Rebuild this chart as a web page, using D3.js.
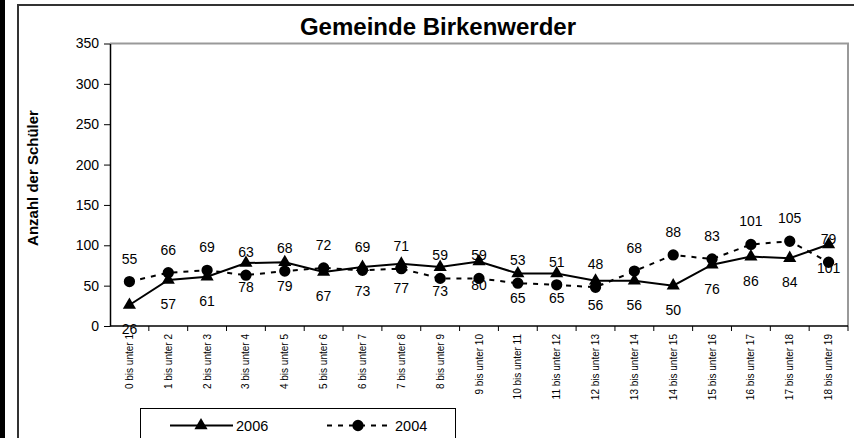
<!DOCTYPE html>
<html>
<head>
<meta charset="utf-8">
<script src="https://cdn.jsdelivr.net/npm/d3@7"></script>
<style>
  html, body { margin: 0; padding: 0; background: #fff; }
  svg { display: block; font-family: "Liberation Sans", Arial, sans-serif; }
</style>
</head>
<body>
<svg id="chart" width="854" height="438"></svg>
<script>
// Altersgruppen (x categories)
const categories = [
  '0 bis unter 1', '1 bis unter 2', '2 bis unter 3', '3 bis unter 4', '4 bis unter 5',
  '5 bis unter 6', '6 bis unter 7', '7 bis unter 8', '8 bis unter 9', '9 bis unter 10',
  '10 bis unter 11', '11 bis unter 12', '12 bis unter 13', '13 bis unter 14', '14 bis unter 15',
  '15 bis unter 16', '16 bis unter 17', '17 bis unter 18', '18 bis unter 19'
];
const values2006 = [26, 57, 61, 78, 79, 67, 73, 77, 73, 80, 65, 65, 56, 56, 50, 76, 86, 84, 101];
const values2004 = [55, 66, 69, 63, 68, 72, 69, 71, 59, 59, 53, 51, 48, 68, 88, 83, 101, 105, 79];
const yTicks = [0, 50, 100, 150, 200, 250, 300, 350];

const PLOT = { left: 110, right: 848, top: 43.5, bottom: 326 };

const svg = d3.select('#chart');

// ─── outer frame ──────────────────────────────
svg.append('rect').attr('x', 0).attr('y', 0).attr('width', 5).attr('height', 438).attr('fill', '#000');
svg.append('line').attr('x1', 18).attr('x2', 18).attr('y1', 5).attr('y2', 438)
  .attr('stroke', '#333').attr('stroke-width', 2);
svg.append('line').attr('x1', 17).attr('x2', 854).attr('y1', 5).attr('y2', 5)
  .attr('stroke', '#333').attr('stroke-width', 2);

// ─── scales ───────────────────────────────────
const x = d3.scaleBand().domain(categories).range([PLOT.left, PLOT.right]).padding(0);
const y = d3.scaleLinear().domain([0, 350]).range([PLOT.bottom, PLOT.top]);
const cx = d => x(d) + x.bandwidth() / 2;

// plot area border (top/right grey)
svg.append('path')
  .attr('d', `M${PLOT.left},${PLOT.top}H${PLOT.right}V${PLOT.bottom}`)
  .attr('fill', 'none').attr('stroke', '#999').attr('stroke-width', 2);

// title
svg.append('text')
  .attr('x', 438).attr('y', 35)
  .attr('text-anchor', 'middle')
  .attr('font-size', 24).attr('font-weight', 'bold')
  .text('Gemeinde Birkenwerder');

// y axis
const yAxis = svg.append('g')
  .attr('transform', `translate(${PLOT.left},0)`)
  .call(d3.axisLeft(y).tickValues(yTicks).tickSize(6).tickPadding(5).tickSizeOuter(0));
yAxis.select('.domain').attr('stroke', '#000').attr('stroke-width', 1.5);
yAxis.selectAll('.tick line').attr('stroke', '#000');
yAxis.selectAll('text').attr('font-size', 14).attr('font-family', '"Liberation Sans", Arial, sans-serif').attr('fill', '#000');

svg.append('text')
  .attr('transform', `translate(38,${178}) rotate(-90)`)
  .attr('text-anchor', 'middle')
  .attr('font-size', 15).attr('font-weight', 'bold')
  .text('Anzahl der Schüler');

// x axis: ticks at category boundaries
const xb = svg.append('g');
xb.append('line')
  .attr('x1', PLOT.left).attr('x2', PLOT.right)
  .attr('y1', PLOT.bottom).attr('y2', PLOT.bottom)
  .attr('stroke', '#000').attr('stroke-width', 1.5);
xb.selectAll('line.tick')
  .data(categories.slice(1).map(c => x(c)).concat([PLOT.right]))
  .enter().append('line')
  .attr('class', 'tick')
  .attr('x1', d => d).attr('x2', d => d)
  .attr('y1', PLOT.bottom).attr('y2', PLOT.bottom + 5)
  .attr('stroke', '#000');
xb.selectAll('text')
  .data(categories)
  .enter().append('text')
  .attr('transform', d => `translate(${cx(d)},${PLOT.bottom + 8}) rotate(-90)`)
  .attr('text-anchor', 'end')
  .attr('dominant-baseline', 'central')
  .attr('font-size', 10)
  .text(d => d);

// ─── series ───────────────────────────────────
const line = d3.line().x(d => cx(d.cat)).y(d => y(d.v));
const s2006 = categories.map((c, i) => ({ cat: c, v: values2006[i] }));
const s2004 = categories.map((c, i) => ({ cat: c, v: values2004[i] }));

svg.append('path').datum(s2004).attr('d', line)
  .attr('fill', 'none').attr('stroke', '#000').attr('stroke-width', 2)
  .attr('stroke-dasharray', '5,6');
svg.append('path').datum(s2006).attr('d', line)
  .attr('fill', 'none').attr('stroke', '#000').attr('stroke-width', 2);

const tri = d3.symbol().type(d3.symbolTriangle).size(75);
const circ = d3.symbol().type(d3.symbolCircle).size(100);

svg.selectAll('path.m2004').data(s2004).enter().append('path')
  .attr('class', 'm2004').attr('d', circ)
  .attr('transform', d => `translate(${cx(d.cat)},${y(d.v)})`).attr('fill', '#000');
svg.selectAll('path.m2006').data(s2006).enter().append('path')
  .attr('class', 'm2006').attr('d', tri)
  .attr('transform', d => `translate(${cx(d.cat)},${y(d.v)})`).attr('fill', '#000');

// data labels: 2004 above, 2006 below
svg.selectAll('text.l2004').data(s2004).enter().append('text')
  .attr('class', 'l2004')
  .attr('x', d => cx(d.cat)).attr('y', d => y(d.v) - 23)
  .attr('text-anchor', 'middle').attr('dominant-baseline', 'central')
  .attr('font-size', 14).text(d => d.v);
svg.selectAll('text.l2006').data(s2006).enter().append('text')
  .attr('class', 'l2006')
  .attr('x', d => cx(d.cat)).attr('y', d => y(d.v) + 24)
  .attr('text-anchor', 'middle').attr('dominant-baseline', 'central')
  .attr('font-size', 14).text(d => d.v);

// ─── legend ───────────────────────────────────
const lg = svg.append('g');
lg.append('rect').attr('x', 140.5).attr('y', 408.5).attr('width', 315).attr('height', 40)
  .attr('fill', '#fff').attr('stroke', '#000');
const ly = 425.5;
lg.append('line').attr('x1', 170).attr('x2', 233).attr('y1', ly).attr('y2', ly)
  .attr('stroke', '#000').attr('stroke-width', 2);
lg.append('path').attr('d', tri).attr('transform', `translate(201,${ly})`);
lg.append('text').attr('x', 236).attr('y', ly).attr('dominant-baseline', 'central')
  .attr('font-size', 14.5).text('2006');
lg.append('line').attr('x1', 327).attr('x2', 393).attr('y1', ly).attr('y2', ly)
  .attr('stroke', '#000').attr('stroke-width', 2).attr('stroke-dasharray', '5,6');
lg.append('path').attr('d', circ).attr('transform', `translate(358,${ly})`);
lg.append('text').attr('x', 395).attr('y', ly).attr('dominant-baseline', 'central')
  .attr('font-size', 14.5).text('2004');
</script>
</body>
</html>
